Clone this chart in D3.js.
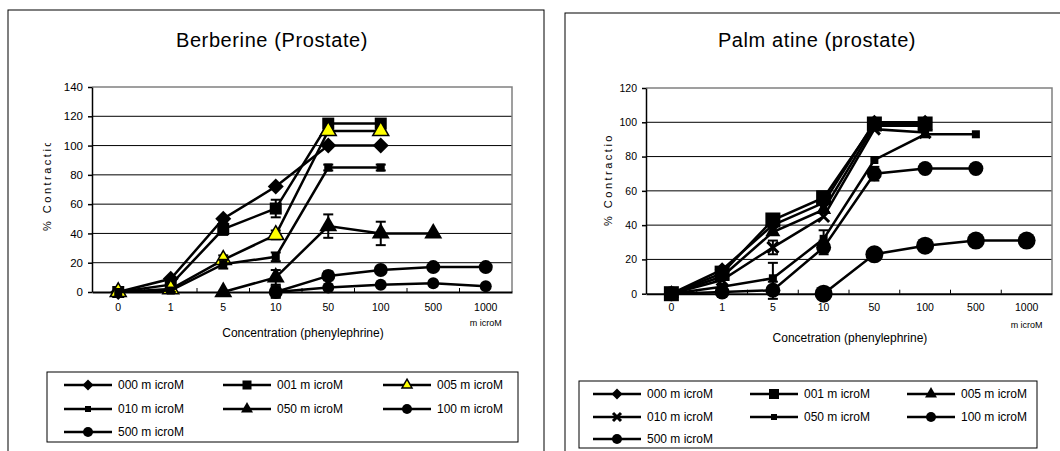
<!DOCTYPE html>
<html>
<head>
<meta charset="utf-8">
<script src="https://cdn.jsdelivr.net/npm/d3@7"></script>
<style>
  body { margin: 0; background: #fff; }
  text { font-family: "Liberation Sans", Arial, sans-serif; fill: #000; }
</style>
</head>
<body>
<svg id="chart" width="1060" height="451"></svg>
<script>
// Concentration categories (x axis)
var concentrations = ["0", "1", "5", "10", "50", "100", "500", "1000"];
var legendNames = ["000 m icroM", "001 m icroM", "005 m icroM", "010 m icroM", "050 m icroM", "100 m icroM", "500 m icroM"];

// Berberine (Prostate) - % contraction per series, null = no point
var berberine000 = [0, 9, 50, 72, 100, 100, null, null];
var berberine001 = [0, 5, 43, 57, 115, 115, null, null];
var berberine005 = [0, 2, 22, 39, 110, 110, null, null];
var berberine010 = [0, 1, 19, 24, 85, 85, null, null];
var berberine050 = [null, null, 0, 10, 45, 40, 40, null];
var berberine100 = [null, null, null, 0, 11, 15, 17, 17];
var berberine500 = [null, null, null, 0, 3, 5, 6, 4];
// error bars (+/-)
var berberineErr000 = [0, 0, 0, 0, 0, 0, 0, 0];
var berberineErr001 = [0, 2, 4, 6, 2, 2, 0, 0];
var berberineErr005 = [0, 1, 3, 3, 0, 0, 0, 0];
var berberineErr010 = [0, 1, 3, 3, 2, 2, 0, 0];
var berberineErr050 = [0, 0, 0, 5, 8, 8, 0, 0];
var berberineErr100 = [0, 0, 0, 4, 3, 0, 0, 0];
var berberineErr500 = [0, 0, 0, 3, 0, 0, 0, 0];

// Palmatine (prostate)
var palmatine000 = [0, 14, 40, 53, 100, 100, null, null];
var palmatine001 = [0, 12, 43, 56, 99, 99, null, null];
var palmatine005 = [0, 10, 36, 49, 98, 98, null, null];
var palmatine010 = [0, 8, 27, 45, 96, 94, null, null];
var palmatine050 = [0, 4, 9, 32, 78, 93, 93, null];
var palmatine100 = [0, 1, 2, 27, 70, 73, 73, null];
var palmatine500 = [null, null, null, 0, 23, 28, 31, 31];
var palmatineErr000 = [0, 0, 0, 0, 0, 0, 0, 0];
var palmatineErr001 = [0, 0, 0, 0, 0, 0, 0, 0];
var palmatineErr005 = [0, 0, 0, 0, 0, 0, 0, 0];
var palmatineErr010 = [0, 0, 4, 0, 0, 0, 0, 0];
var palmatineErr050 = [0, 0, 9, 5, 0, 0, 0, 0];
var palmatineErr100 = [0, 2, 5, 4, 4, 0, 0, 0];
var palmatineErr500 = [0, 0, 0, 0, 0, 0, 0, 0];

var svg = d3.select("#chart");

// marker shapes, drawn centred on 0,0 inside a g
function addMarker(g, shape, s, fill) {
  if (shape === "circle") {
    g.append("circle").attr("r", s / 2).attr("fill", fill);
  } else if (shape === "square") {
    g.append("rect").attr("x", -s / 2).attr("y", -s / 2).attr("width", s).attr("height", s).attr("fill", fill);
  } else if (shape === "diamond") {
    g.append("polygon").attr("points", `0,${-s/2} ${s/2},0 0,${s/2} ${-s/2},0`).attr("fill", fill);
  } else if (shape === "triangle") {
    var h = s * 0.866;
    g.append("polygon").attr("points", `0,${-h*2/3} ${s/2},${h/3} ${-s/2},${h/3}`)
      .attr("fill", fill).attr("stroke", "#000").attr("stroke-width", fill === "#000" ? 0 : 1.5);
  } else if (shape === "x") {
    g.append("path").attr("d", `M${-s/2},${-s/2}L${s/2},${s/2}M${-s/2},${s/2}L${s/2},${-s/2}`)
      .attr("stroke", "#000").attr("stroke-width", 3).attr("fill", "none");
  }
}

function drawPanel(p) {
  var g = svg.append("g");

  // outer frame
  g.append("rect").attr("x", p.frame[0]).attr("y", p.frame[1]).attr("width", p.frame[2]).attr("height", p.frame[3])
    .attr("fill", "none").attr("stroke", "#000").attr("stroke-width", 1);

  g.append("text").attr("x", p.titleX).attr("y", 47).attr("text-anchor", "middle")
    .style("font-size", "20px").style("letter-spacing", "0.6px").text(p.title);

  var x = d3.scaleBand().domain(concentrations).range([p.left, p.right]);
  var y = d3.scaleLinear().domain([0, p.yMax]).range([p.bottom, p.top]);

  // gridlines
  g.selectAll(".grid").data(d3.range(20, p.yMax, 20)).enter().append("line")
    .attr("x1", p.left).attr("x2", p.right)
    .attr("y1", d => y(d)).attr("y2", d => y(d))
    .attr("stroke", "#000").attr("stroke-width", 1);

  // plot area border (top, right)
  g.append("path").attr("d", `M${p.left},${p.top}H${p.right}V${p.bottom}`)
    .attr("fill", "none").attr("stroke", "#808080").attr("stroke-width", 1.5);

  // y axis
  var yAxis = g.append("g").attr("transform", `translate(${p.left},0)`)
    .call(d3.axisLeft(y).tickValues(d3.range(0, p.yMax + 1, 20)).tickSize(4).tickSizeOuter(0).tickPadding(5));
  yAxis.selectAll("path, line").attr("stroke", "#000").attr("stroke-width", 1.5);
  yAxis.selectAll("text").style("font-size", p.yFont + "px").style("font-family", "Liberation Sans, Arial, sans-serif");

  // x axis (labels only, ticks at category boundaries)
  var xAxis = g.append("g").attr("transform", `translate(0,${p.bottom})`)
    .call(d3.axisBottom(x).tickSize(0).tickSizeOuter(0).tickPadding(p.xPad));
  xAxis.select("path").attr("stroke", "#000").attr("stroke-width", 2);
  xAxis.selectAll("text").style("font-size", "10.5px").style("font-family", "Liberation Sans, Arial, sans-serif");
  g.selectAll(".xtick").data(concentrations.slice(1)).enter().append("line")
    .attr("x1", d => x(d)).attr("x2", d => x(d))
    .attr("y1", p.bottom).attr("y2", p.bottom - 4)
    .attr("stroke", "#000").attr("stroke-width", 1);

  g.append("text").attr("x", x("1000") + x.bandwidth() / 2).attr("y", p.bottom + 34)
    .attr("text-anchor", "middle").style("font-size", "9px").text("m icroM");
  g.append("text").attr("x", p.xTitleX).attr("y", p.xTitleY).attr("text-anchor", "middle")
    .style("font-size", "12px").text(p.xTitle);

  // clipped y label (the source cuts it off)
  var clipId = "clip" + p.id;
  svg.append("clipPath").attr("id", clipId).append("rect")
    .attr("x", p.yLabelX - 12).attr("y", p.yLabelClip).attr("width", 24).attr("height", 200);
  g.append("g").attr("clip-path", `url(#${clipId})`)
    .append("text")
    .attr("transform", `translate(${p.yLabelX + 4},${p.yLabelBottom}) rotate(-90)`)
    .style("font-size", "11px").style("letter-spacing", "2.5px").text("% Contraction");

  // series
  var line = d3.line().defined(d => d.v !== null)
    .x(d => x(d.c) + x.bandwidth() / 2).y(d => y(d.v));

  p.series.forEach(function(s) {
    var pts = concentrations.map((c, i) => ({c: c, v: s.values[i], e: s.errors[i]}));
    g.append("path").datum(pts).attr("d", line)
      .attr("fill", "none").attr("stroke", "#000").attr("stroke-width", 2.5);

    var valid = pts.filter(d => d.v !== null);
    valid.filter(d => d.e > 0).forEach(function(d) {
      var cx = x(d.c) + x.bandwidth() / 2;
      var hi = y(d.v + d.e), lo = y(d.v - d.e);
      var eb = g.append("g").attr("stroke", "#000").attr("stroke-width", 2);
      eb.append("line").attr("x1", cx).attr("x2", cx).attr("y1", lo).attr("y2", hi);
      eb.append("line").attr("x1", cx - 5).attr("x2", cx + 5).attr("y1", hi).attr("y2", hi);
      eb.append("line").attr("x1", cx - 5).attr("x2", cx + 5).attr("y1", lo).attr("y2", lo);
    });

    valid.forEach(function(d) {
      var mg = g.append("g").attr("transform", `translate(${x(d.c) + x.bandwidth() / 2},${y(d.v)})`);
      addMarker(mg, s.style.shape, s.style.size, s.style.fill);
    });
  });

  // legend
  g.append("rect").attr("x", p.legend[0]).attr("y", p.legend[1]).attr("width", p.legend[2]).attr("height", p.legend[3])
    .attr("fill", "none").attr("stroke", "#000").attr("stroke-width", 1);
  p.series.forEach(function(s, i) {
    var lx = p.legendCols[i % 3], ly = p.legendRows[Math.floor(i / 3)];
    g.append("line").attr("x1", lx).attr("x2", lx + 48).attr("y1", ly).attr("y2", ly)
      .attr("stroke", "#000").attr("stroke-width", 2.5);
    var mg = g.append("g").attr("transform", `translate(${lx + 24},${ly})`);
    addMarker(mg, s.style.shape, s.style.legendSize, s.style.fill);
    g.append("text").attr("x", lx + 54).attr("y", ly + 4).style("font-size", "12px").text(legendNames[i]);
  });
}

var berberineStyles = [
  {shape: "diamond", size: 16, legendSize: 11, fill: "#000"},
  {shape: "square", size: 12, legendSize: 9, fill: "#000"},
  {shape: "triangle", size: 16, legendSize: 10, fill: "#ffff00"},
  {shape: "square", size: 8, legendSize: 6, fill: "#000"},
  {shape: "triangle", size: 18, legendSize: 12, fill: "#000"},
  {shape: "circle", size: 14, legendSize: 10, fill: "#000"},
  {shape: "circle", size: 12, legendSize: 10, fill: "#000"}
];
var palmatineStyles = [
  {shape: "diamond", size: 15, legendSize: 11, fill: "#000"},
  {shape: "square", size: 15, legendSize: 10, fill: "#000"},
  {shape: "triangle", size: 15, legendSize: 12, fill: "#000"},
  {shape: "x", size: 11, legendSize: 8, fill: "#000"},
  {shape: "square", size: 8, legendSize: 6, fill: "#000"},
  {shape: "circle", size: 15, legendSize: 10, fill: "#000"},
  {shape: "circle", size: 18, legendSize: 10, fill: "#000"}
];

var berberineValues = [berberine000, berberine001, berberine005, berberine010, berberine050, berberine100, berberine500];
var berberineErrors = [berberineErr000, berberineErr001, berberineErr005, berberineErr010, berberineErr050, berberineErr100, berberineErr500];
var palmatineValues = [palmatine000, palmatine001, palmatine005, palmatine010, palmatine050, palmatine100, palmatine500];
var palmatineErrors = [palmatineErr000, palmatineErr001, palmatineErr005, palmatineErr010, palmatineErr050, palmatineErr100, palmatineErr500];

drawPanel({
  id: "L", title: "Berberine (Prostate)", titleX: 272,
  frame: [8, 10, 536, 470],
  left: 92, right: 512, top: 87, bottom: 292, yMax: 140, yFont: 11.5, xPad: 12,
  xTitle: "Concentration (phenylephrine)", xTitleX: 303, xTitleY: 337,
  yLabelX: 47, yLabelBottom: 231, yLabelClip: 143,
  legend: [47, 372, 471, 70], legendCols: [64, 223, 383], legendRows: [385, 409, 432],
  series: berberineValues.map((v, i) => ({values: v, errors: berberineErrors[i], style: berberineStyles[i]}))
});

drawPanel({
  id: "R", title: "Palm atine (prostate)", titleX: 817,
  frame: [565, 13, 520, 470],
  left: 646, right: 1052, top: 88, bottom: 293.7, yMax: 120, yFont: 10.5, xPad: 10,
  xTitle: "Concetration (phenylephrine)", xTitleX: 850, xTitleY: 342,
  yLabelX: 608, yLabelBottom: 226, yLabelClip: 133,
  legend: [579, 381, 458, 67], legendCols: [593, 750, 907], legendRows: [394, 417, 439],
  series: palmatineValues.map((v, i) => ({values: v, errors: palmatineErrors[i], style: palmatineStyles[i]}))
});
</script>
</body>
</html>
